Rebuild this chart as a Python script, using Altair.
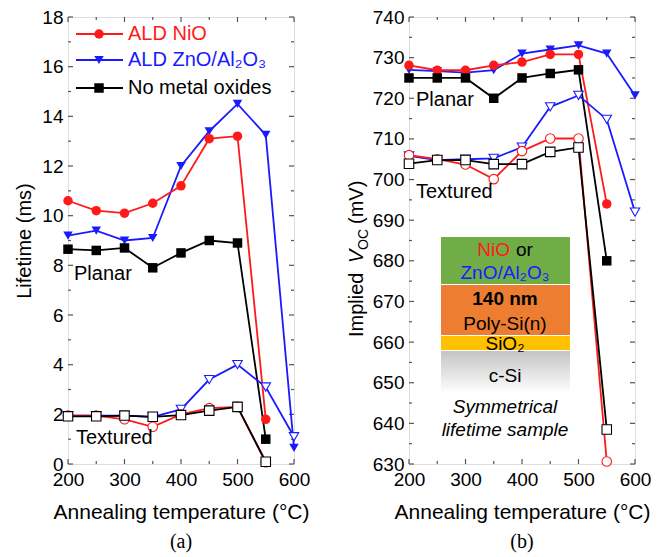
import altair as alt
import pandas as pd

# ---------------- data ----------------
temps = [200, 250, 300, 350, 400, 450, 500, 550, 600]
series_order = ["ALD ZnO/Al2O3", "ALD NiO", "No metal oxides"]
series_colors = ["#1a1aff", "#ff1a1a", "#000000"]
series_shapes = ["triangle-down", "circle", "square"]

# Lifetime (ms)
zno_planar_tau = [9.2, 9.4, 9.0, 9.1, 12.0, 13.4, 14.5, 13.25, 0.65]
nio_planar_tau = [10.6, 10.2, 10.1, 10.5, 11.2, 13.1, 13.2, 1.8, None]
ref_planar_tau = [8.65, 8.6, 8.7, 7.9, 8.5, 9.0, 8.9, 1.0, None]
zno_text_tau = [1.95, 1.95, 1.95, 1.9, 2.2, 3.4, 4.0, 3.1, 1.1]
nio_text_tau = [1.95, 1.95, 1.8, 1.5, 2.0, 2.25, 2.3, 0.07, None]
ref_text_tau = [1.92, 1.92, 1.95, 1.9, 1.97, 2.15, 2.3, 0.09, None]

# Implied Voc (mV)
zno_planar_voc = [727.0, 726.7, 726.3, 726.9, 731.0, 732.0, 733.0, 731.0, 720.7]
nio_planar_voc = [728.1, 726.9, 726.9, 728.1, 728.9, 730.8, 730.8, 694.0, None]
ref_planar_voc = [725.0, 725.0, 725.0, 720.0, 725.0, 726.1, 727.0, 680.0, None]
zno_text_voc = [705.8, 704.8, 705.0, 705.2, 708.0, 717.9, 720.7, 714.8, 692.0]
nio_text_voc = [706.0, 705.0, 703.7, 700.1, 707.0, 710.1, 710.1, 630.6, None]
ref_text_voc = [703.9, 704.8, 704.8, 703.8, 703.8, 706.8, 707.9, 638.5, None]

tau_major = [0, 2, 4, 6, 8, 10, 12, 14, 16, 18]
tau_minor = [1, 3, 5, 7, 9, 11, 13, 15, 17]
voc_major = [630, 640, 650, 660, 670, 680, 690, 700, 710, 720, 730, 740]
voc_minor = [635, 645, 655, 665, 675, 685, 695, 705, 715, 725, 735]
t_major = [200, 300, 400, 500, 600]
t_minor = [250, 350, 450, 550]

W, H = 226, 447
FONT = "Liberation Sans"


def long_df(groups):
    rows = []
    for series, sample, vals in groups:
        for t, v in zip(temps, vals):
            if v is not None:
                rows.append({"T": t, "v": v, "series": series, "sample": sample,
                             "key": series + "|" + sample})
    return pd.DataFrame(rows)


tau_df = long_df([
    ("ALD ZnO/Al2O3", "Planar", zno_planar_tau),
    ("ALD NiO", "Planar", nio_planar_tau),
    ("No metal oxides", "Planar", ref_planar_tau),
    ("ALD ZnO/Al2O3", "Textured", zno_text_tau),
    ("ALD NiO", "Textured", nio_text_tau),
    ("No metal oxides", "Textured", ref_text_tau),
])
voc_df = long_df([
    ("ALD ZnO/Al2O3", "Planar", zno_planar_voc),
    ("ALD NiO", "Planar", nio_planar_voc),
    ("No metal oxides", "Planar", ref_planar_voc),
    ("ALD ZnO/Al2O3", "Textured", zno_text_voc),
    ("ALD NiO", "Textured", nio_text_voc),
    ("No metal oxides", "Textured", ref_text_voc),
])

cscale = alt.Scale(domain=series_order, range=series_colors)
sscale = alt.Scale(domain=series_order, range=series_shapes)
dummy = pd.DataFrame({"a": [0]})


def annot(text, x, y, size=20, color="black", **kw):
    return alt.Chart(dummy).mark_text(text=text, fontSize=size, color=color, font=FONT,
                                      align=kw.pop("align", "left"),
                                      baseline=kw.pop("baseline", "middle"), **kw).encode(
        x=alt.value(x), y=alt.value(y))


def panel(df, ydom, ymaj, ymin, ytitle, caption):
    xaxis = alt.Axis(values=t_major, ticks=False, tickSize=0, domain=False, grid=False,
                     labelFontSize=19, titleFontSize=21, labelPadding=6, titlePadding=12,
                     labelColor="black", titleColor="black", titleFontWeight="normal",
                     labelFont=FONT, titleFont=FONT, labelFlush=False)
    yaxis = alt.Axis(values=ymaj, ticks=False, tickSize=0, domain=False, grid=False,
                     labelFontSize=19, titleFontSize=20, labelPadding=5, titlePadding=7,
                     labelColor="black", titleColor="black", titleFontWeight="normal",
                     labelFont=FONT, titleFont=FONT)
    X = alt.X("T:Q", scale=alt.Scale(domain=[200, 600], nice=False), axis=xaxis,
              title="Annealing temperature (°C)")
    if ytitle:
        Y = alt.Y("v:Q", scale=alt.Scale(domain=ydom, nice=False), axis=yaxis, title=ytitle)
    else:
        Y = alt.Y("v:Q", scale=alt.Scale(domain=ydom, nice=False), axis=yaxis, title=None)

    lines = alt.Chart(df).mark_line(strokeWidth=1.8).encode(
        x=X, y=Y, color=alt.Color("series:N", scale=cscale, legend=None),
        detail="key:N")
    filled = alt.Chart(df).transform_filter(alt.datum.sample == "Planar").mark_point(
        filled=True, size=90, opacity=1).encode(
        x=X, y=Y, color=alt.Color("series:N", scale=cscale, legend=None),
        shape=alt.Shape("series:N", scale=sscale, legend=None))
    hollow = alt.Chart(df).transform_filter(alt.datum.sample == "Textured").mark_point(
        filled=False, fill="white", fillOpacity=1, size=90, strokeWidth=1.1, opacity=1).encode(
        x=X, y=Y, color=alt.Color("series:N", scale=cscale, legend=None),
        shape=alt.Shape("series:N", scale=sscale, legend=None))

    tick_col = "#555555"
    ymaj_df = pd.DataFrame({"v": ymaj})
    ymin_df = pd.DataFrame({"v": ymin})
    xmaj_df = pd.DataFrame({"T": t_major})
    xmin_df = pd.DataFrame({"T": t_minor})
    ticks = []
    for d, ln in ((ymaj_df, 5), (ymin_df, 3)):
        ticks.append(alt.Chart(d).mark_rule(color=tick_col, strokeWidth=1.2).encode(
            y=Y, x=alt.value(0), x2=alt.value(ln)))
        ticks.append(alt.Chart(d).mark_rule(color=tick_col, strokeWidth=1.2).encode(
            y=Y, x=alt.value(W - ln), x2=alt.value(W)))
    for d, ln in ((xmaj_df, 5), (xmin_df, 3)):
        ticks.append(alt.Chart(d).mark_rule(color=tick_col, strokeWidth=1.2).encode(
            x=X, y=alt.value(H - ln), y2=alt.value(H)))
        ticks.append(alt.Chart(d).mark_rule(color=tick_col, strokeWidth=1.2).encode(
            x=X, y=alt.value(0), y2=alt.value(ln)))

    layers = ticks + [lines, hollow, filled]
    return layers, alt.TitleParams(text=caption, orient="bottom", font="Liberation Serif",
                                   fontSize=20, fontWeight="normal", anchor="middle",
                                   offset=10, color="black")


# ---------- left panel ----------
left_layers, left_title = panel(tau_df, [0, 18], tau_major, tau_minor, "Lifetime (ms)", "(a)")

legend_rows = [("ALD NiO", "#ff1a1a", "circle", 17),
               ("ALD ZnO/Al₂O₃", "#1a1aff", "triangle-down", 43),
               ("No metal oxides", "#000000", "square", 71)]
legend_layers = []
for label, col, shp, yy in legend_rows:
    legend_layers.append(alt.Chart(dummy).mark_rule(color=col, strokeWidth=1.8).encode(
        x=alt.value(8), x2=alt.value(55), y=alt.value(yy)))
    legend_layers.append(alt.Chart(dummy).mark_point(filled=True, shape=shp, size=90,
                                                      color=col, opacity=1).encode(
        x=alt.value(31), y=alt.value(yy)))
    legend_layers.append(annot(label, 60, yy, size=20, color=col))

left_annots = [annot("Planar", 6, 257), annot("Textured", 8, 421)]

left = alt.layer(*left_layers, *legend_layers, *left_annots).properties(
    width=W, height=H, title=left_title)

# ---------- right panel ----------
right_layers, right_title = panel(voc_df, [630, 740], voc_major, voc_minor, None, "(b)")

gradient = alt.Gradient(gradient="linear",
                        stops=[alt.GradientStop(color="#c4c4c4", offset=0),
                               alt.GradientStop(color="#ffffff", offset=1)],
                        x1=0, x2=0, y1=0, y2=1)
inset = [
    alt.Chart(dummy).mark_rect(fill="#70ad47").encode(
        x=alt.value(32), x2=alt.value(161), y=alt.value(220), y2=alt.value(267)),
    alt.Chart(dummy).mark_rect(fill="#ed7d31").encode(
        x=alt.value(32), x2=alt.value(161), y=alt.value(268), y2=alt.value(318)),
    alt.Chart(dummy).mark_rect(fill="#ffc000").encode(
        x=alt.value(32), x2=alt.value(161), y=alt.value(319), y2=alt.value(333)),
    alt.Chart(dummy).mark_rect(fill=gradient).encode(
        x=alt.value(32), x2=alt.value(161), y=alt.value(334), y2=alt.value(376)),
    annot("NiO", 101, 233, size=19, color="#ff1a1a", align="right"),
    annot("or", 107, 233, size=19, color="black"),
    annot("ZnO/Al₂O₃", 96, 256, size=19, color="#1a1aff", align="center"),
    annot("140 nm", 96, 282, size=19, align="center", fontWeight="bold"),
    annot("Poly-Si(n)", 96, 307, size=19, align="center"),
    annot("SiO₂", 96, 327, size=19, align="center"),
    annot("c-Si", 96, 359, size=19, align="center"),
    annot("Symmetrical", 96, 390, size=19, align="center", fontStyle="italic"),
    annot("lifetime sample", 96, 413, size=19, align="center", fontStyle="italic"),
]
right_annots = [annot("Planar", 7, 83), annot("Textured", 7, 175)]

# y title with italic V and subscript OC
ytitle_parts = [
    annot("Implied", -46, 320, size=20, angle=270, baseline="alphabetic"),
    annot("V", -46, 246, size=20, angle=270, baseline="alphabetic", fontStyle="italic"),
    annot("OC", -41, 233, size=14, angle=270, baseline="alphabetic"),
    annot("(mV)", -46, 207, size=20, angle=270, baseline="alphabetic"),
]

right = alt.layer(*right_layers, *inset, *right_annots, *ytitle_parts).properties(
    width=W, height=H, title=right_title)

chart = alt.hconcat(left, right, spacing=35).properties(
    padding={"left": 14, "top": 7, "right": 5, "bottom": 5}
).configure_view(stroke="#555555", strokeWidth=1.5).configure(background="white")

chart.save("out.html", embed_options={"renderer": "svg", "actions": False})
